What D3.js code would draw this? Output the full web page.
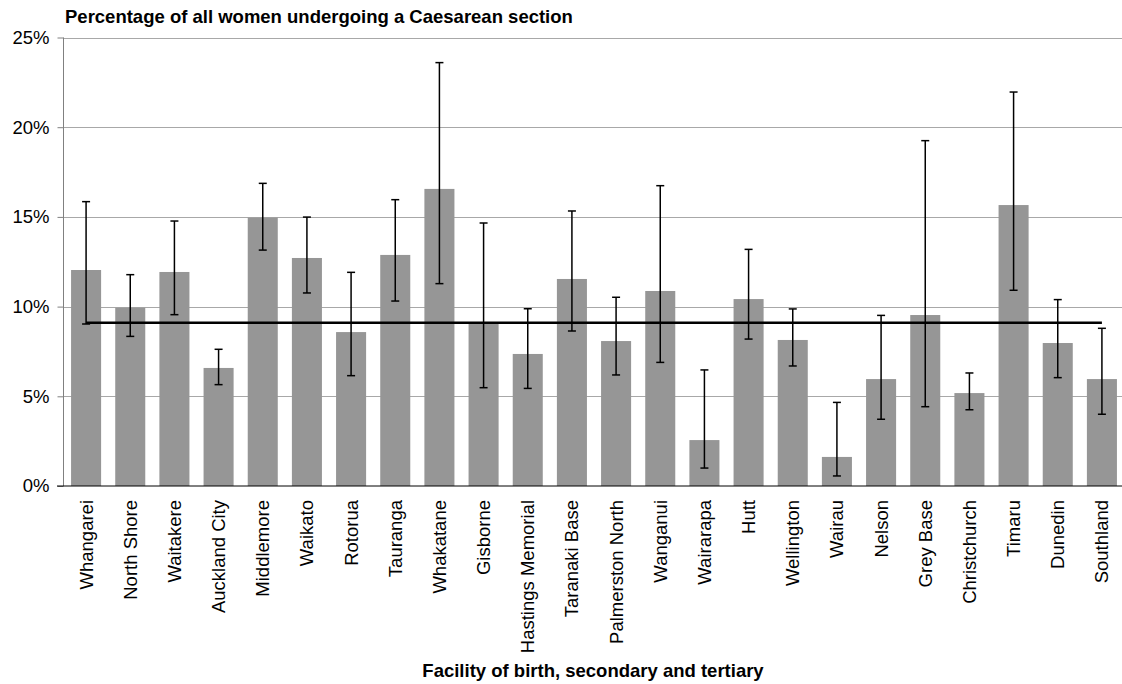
<!DOCTYPE html>
<html>
<head>
<meta charset="utf-8">
<script src="https://cdn.jsdelivr.net/npm/d3@7"></script>
<style>
  html, body { margin: 0; padding: 0; background: #fff; }
  svg { display: block; font-family: "Liberation Sans", Arial, sans-serif; }
</style>
</head>
<body>
<svg id="chart" width="1122" height="684"></svg>
<script>
const categories = ["Whangarei","North Shore","Waitakere","Auckland City","Middlemore","Waikato","Rotorua","Tauranga","Whakatane","Gisborne","Hastings Memorial","Taranaki Base","Palmerston North","Wanganui","Wairarapa","Hutt","Wellington","Wairau","Nelson","Grey Base","Christchurch","Timaru","Dunedin","Southland"];
const rates = [12.04, 9.94, 11.93, 6.58, 14.96, 12.71, 8.58, 12.88, 16.56, 9.10, 7.36, 11.54, 8.08, 10.87, 2.56, 10.42, 8.14, 1.62, 5.96, 9.53, 5.18, 15.66, 7.97, 5.96];
const lowerCI = [9.03, 8.34, 9.55, 5.65, 13.15, 10.76, 6.15, 10.31, 11.28, 5.48, 5.44, 8.64, 6.19, 6.89, 1.00, 8.19, 6.69, 0.56, 3.72, 4.42, 4.25, 10.91, 6.04, 4.00];
const upperCI = [15.85, 11.78, 14.77, 7.62, 16.87, 14.99, 11.91, 15.96, 23.60, 14.66, 9.88, 15.33, 10.52, 16.74, 6.47, 13.19, 9.87, 4.66, 9.51, 19.25, 6.30, 21.96, 10.39, 8.79];
const nationalAverage = 9.1;
const yTicks = [0, 5, 10, 15, 20, 25];
const chartTitle = "Percentage of all women undergoing a Caesarean section";
const xAxisTitle = "Facility of birth, secondary and tertiary";

const svg = d3.select("#chart");
const fs = 18.5;

const x = d3.scaleBand().domain(categories).range([64, 1124]).paddingInner(0.32).paddingOuter(0.16);
const y = d3.scaleLinear().domain([0, 25]).range([486, 37.5]);
const plotLeft = 63, plotRight = 1122;

// gridlines
svg.append("g").selectAll("line").data(yTicks.filter(d => d > 0)).join("line")
  .attr("x1", plotLeft).attr("x2", plotRight)
  .attr("y1", d => Math.round(y(d)) + 0.5).attr("y2", d => Math.round(y(d)) + 0.5)
  .attr("stroke", "#a8a8a8").attr("stroke-width", 1);

// y axis
const yAxis = d3.axisLeft(y).tickValues(yTicks).tickFormat(d => d + "%").tickSize(6).tickPadding(8);
const gy = svg.append("g").attr("transform", `translate(${plotLeft + 0.5},0)`).call(yAxis);
gy.select(".domain").attr("stroke", "#808080").attr("d", `M0,${y(25)}V${y(0)}`);
gy.selectAll(".tick line").attr("stroke", "#808080");
gy.selectAll(".tick text").attr("font-size", fs).attr("fill", "#000").attr("font-family", "Liberation Sans, Arial, sans-serif");

// bars
svg.append("g").selectAll("rect").data(categories).join("rect")
  .attr("x", d => x(d))
  .attr("width", x.bandwidth())
  .attr("y", (d, i) => y(rates[i]))
  .attr("height", (d, i) => y(0) - y(rates[i]))
  .attr("fill", "#969696");

// x axis line
const xAxis = d3.axisBottom(x).tickSize(0).tickPadding(0).tickFormat(() => "");
const gx = svg.append("g").attr("transform", `translate(0,${y(0)})`).call(xAxis);
gx.select(".domain").attr("stroke", "#000").attr("d", `M${plotLeft - 6},0H${plotRight}`);

// category labels
svg.append("g").selectAll("text").data(categories).join("text")
  .attr("transform", d => `translate(${x(d) + x.bandwidth() / 2},500) rotate(-90)`)
  .attr("text-anchor", "end")
  .attr("dy", "0.35em")
  .attr("font-size", fs)
  .attr("fill", "#000")
  .text(d => d);

// error bars
const eb = svg.append("g").attr("stroke", "#000").attr("stroke-width", 1.5).attr("fill", "none");
categories.forEach((c, i) => {
  const cx = x(c) + x.bandwidth() / 2;
  eb.append("line").attr("x1", cx).attr("x2", cx).attr("y1", y(lowerCI[i])).attr("y2", y(upperCI[i]));
  eb.append("line").attr("x1", cx - 4).attr("x2", cx + 4).attr("y1", y(lowerCI[i])).attr("y2", y(lowerCI[i]));
  eb.append("line").attr("x1", cx - 4).attr("x2", cx + 4).attr("y1", y(upperCI[i])).attr("y2", y(upperCI[i]));
});

// average line
const first = categories[0], last = categories[categories.length - 1];
svg.append("line")
  .attr("x1", x(first) + x.bandwidth() / 2)
  .attr("x2", x(last) + x.bandwidth() / 2)
  .attr("y1", y(nationalAverage)).attr("y2", y(nationalAverage))
  .attr("stroke", "#000").attr("stroke-width", 2.5);

// titles
svg.append("text").attr("x", 65).attr("y", 23)
  .attr("font-size", fs).attr("font-weight", "bold").attr("fill", "#000")
  .text(chartTitle);
svg.append("text").attr("x", 593).attr("y", 677)
  .attr("text-anchor", "middle")
  .attr("font-size", fs).attr("font-weight", "bold").attr("fill", "#000")
  .text(xAxisTitle);
</script>
</body>
</html>
